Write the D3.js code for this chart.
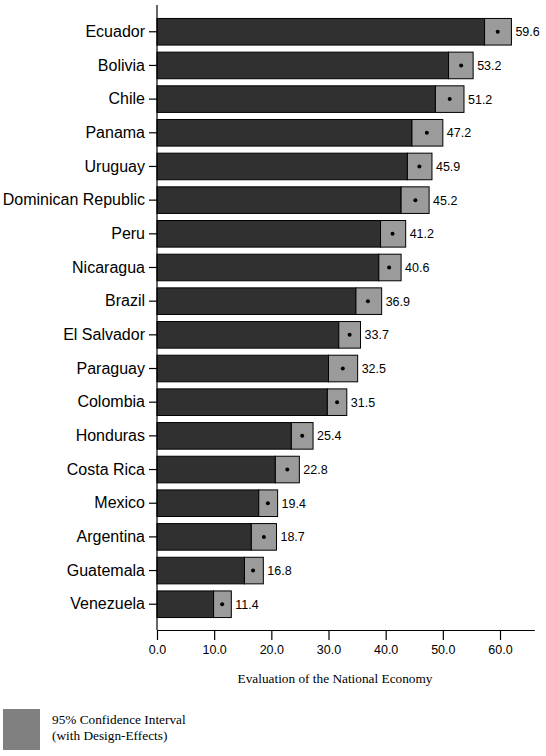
<!DOCTYPE html>
<html>
<head>
<meta charset="utf-8">
<script src="https://cdn.jsdelivr.net/npm/d3@7"></script>
<style>
  body { margin: 0; background: #fff; }
  svg { display: block; }
</style>
</head>
<body>
<svg id="chart"></svg>
<script>
// country order, top to bottom
const countries = ['Ecuador', 'Bolivia', 'Chile', 'Panama', 'Uruguay', 'Dominican Republic',
  'Peru', 'Nicaragua', 'Brazil', 'El Salvador', 'Paraguay', 'Colombia', 'Honduras',
  'Costa Rica', 'Mexico', 'Argentina', 'Guatemala', 'Venezuela'];
const means = [59.6, 53.2, 51.2, 47.2, 45.9, 45.2, 41.2, 40.6, 36.9, 33.7, 32.5, 31.5,
  25.4, 22.8, 19.4, 18.7, 16.8, 11.4];
// 95% CI bounds
const lower = [57.3, 51.0, 48.7, 44.6, 43.8, 42.7, 39.1, 38.8, 34.8, 31.8, 30.0, 29.8,
  23.5, 20.7, 17.8, 16.5, 15.3, 9.9];
const upper = [62.0, 55.3, 53.7, 50.0, 48.1, 47.6, 43.5, 42.7, 39.3, 35.6, 35.1, 33.2,
  27.3, 24.9, 21.1, 20.9, 18.6, 13.0];
const xTicks = [0, 10, 20, 30, 40, 50, 60];

const width = 546, height = 756;
const svg = d3.select('#chart')
  .attr('width', width)
  .attr('height', height);

const x = d3.scaleLinear().domain([0, 66]).range([157, 534.3]);
const y = d3.scaleBand().domain(countries).range([6, 630])
  .paddingInner(0.21).paddingOuter(0.37);

const rows = countries.map((c, i) => ({ c, m: means[i], lo: lower[i], hi: upper[i] }));

// bars: dark part up to lower bound, grey box for the interval
const g = svg.append('g');
g.selectAll('.bar')
  .data(rows)
  .enter()
  .append('rect')
  .attr('x', x(0))
  .attr('y', d => y(d.c))
  .attr('width', d => x(d.lo) - x(0))
  .attr('height', y.bandwidth())
  .attr('fill', '#303030')
  .attr('stroke', '#000')
  .attr('stroke-width', 1);

g.selectAll('.ci')
  .data(rows)
  .enter()
  .append('rect')
  .attr('x', d => x(d.lo))
  .attr('y', d => y(d.c))
  .attr('width', d => x(d.hi) - x(d.lo))
  .attr('height', y.bandwidth())
  .attr('fill', '#9b9b9b')
  .attr('stroke', '#000')
  .attr('stroke-width', 1);

g.selectAll('.dot')
  .data(rows)
  .enter()
  .append('circle')
  .attr('cx', d => x(d.m))
  .attr('cy', d => y(d.c) + y.bandwidth() / 2)
  .attr('r', 2)
  .attr('fill', '#000');

g.selectAll('.val')
  .data(rows)
  .enter()
  .append('text')
  .attr('x', d => x(d.hi) + 4)
  .attr('y', d => y(d.c) + y.bandwidth() / 2)
  .attr('dy', '0.36em')
  .attr('font-family', 'Liberation Sans, Arial, sans-serif')
  .attr('font-size', 12.5)
  .attr('fill', '#000')
  .text(d => d.m.toFixed(1));

// axes
const yAxis = d3.axisLeft(y).tickSize(8).tickSizeOuter(0).tickPadding(4);
const ya = svg.append('g')
  .attr('transform', `translate(${x(0)},0)`)
  .call(yAxis);
ya.select('.domain').attr('d', `M0,5V630`);
ya.selectAll('text')
  .attr('font-family', 'Liberation Sans, Arial, sans-serif')
  .attr('font-size', 16)
  .attr('fill', '#000');

const xAxis = d3.axisBottom(x).tickValues(xTicks).tickFormat(d3.format('.1f'))
  .tickSize(10).tickSizeOuter(0).tickPadding(5);
const xa = svg.append('g')
  .attr('transform', 'translate(0,630)')
  .call(xAxis);
xa.selectAll('text')
  .attr('font-family', 'Liberation Sans, Arial, sans-serif')
  .attr('font-size', 12.5)
  .attr('fill', '#000');
svg.selectAll('.domain, .tick line').attr('stroke', '#000').attr('stroke-width', 1.2);

svg.append('text')
  .attr('x', 335)
  .attr('y', 683)
  .attr('text-anchor', 'middle')
  .attr('font-family', 'Liberation Serif, Times New Roman, serif')
  .attr('font-size', 13.3)
  .attr('fill', '#000')
  .text('Evaluation of the National Economy');

// legend
svg.append('rect')
  .attr('x', 3).attr('y', 709)
  .attr('width', 37).attr('height', 41)
  .attr('fill', '#808080');
const lt = svg.append('text')
  .attr('font-family', 'Liberation Serif, Times New Roman, serif')
  .attr('font-size', 13.3)
  .attr('fill', '#000');
lt.append('tspan').attr('x', 52).attr('y', 724).text('95% Confidence Interval');
lt.append('tspan').attr('x', 52).attr('y', 740).text('(with Design-Effects)');
</script>
</body>
</html>
